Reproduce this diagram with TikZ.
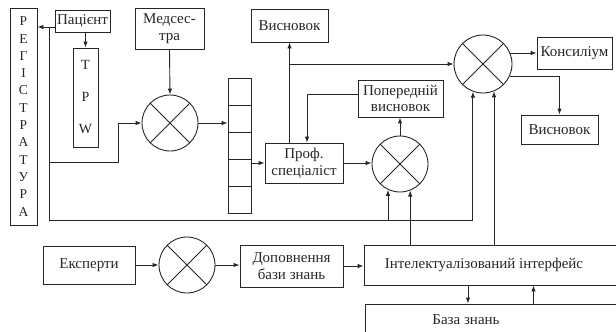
\documentclass[tikz,border=0pt]{standalone}
\usepackage{fontspec}
\setmainfont{Liberation Serif}
\usetikzlibrary{arrows.meta,calc}

\begin{document}
\begin{tikzpicture}[
		x=1pt, y=-1pt,
		line width=0.9pt,
		color=black!85,
		font=\fontsize{15}{16.5}\selectfont,
		>={Latex[length=6pt,width=4.5pt]},
		box/.style={draw, rectangle, inner sep=1pt},
		cell/.style={draw, rectangle, minimum width=23, minimum height=27},
		mix/.style={circle, draw, minimum size=56, inner sep=0pt,
			path picture={\draw (path picture bounding box.north west) -- (path picture bounding box.south east)
				(path picture bounding box.north east) -- (path picture bounding box.south west);}}
		]
		
		\clip (0,0) rectangle (616,332);
		
		% left column
		\node[box, align=center, minimum width=27, minimum height=217, font=\fontsize{13.5}{17.3}\selectfont] (reg) at (23.5,116.5)
		{Р\\Е\\Г\\І\\С\\Т\\Р\\А\\Т\\У\\Р\\А};
		\node[box, minimum width=55, minimum height=22] (pat) at (82.5,21) {Пацієнт};
		\node[box, align=center, minimum width=25, minimum height=99, font=\fontsize{14}{32}\selectfont] (tpw) at (85.5,97.5) {Т\\Р\\W};
		\node[box, align=center, minimum width=69, minimum height=41] (med) at (169.5,28.5) {Медсес-\\тра};
		\node[mix] (c1) at (170,123) {};
		
		% queue
		\foreach \i in {1,...,5}
		\node[cell] (st\i) at (239.5,{64.5+27*\i}) {};
		
		% specialist
		\node[box, align=center, minimum width=78, minimum height=40] (prof) at (304,163) {Проф.\\спеціаліст};
		\node[box, minimum width=77, minimum height=33] (vis1) at (289.5,25.5) {Висновок};
		\node[box, align=center, minimum width=85, minimum height=37] (prev) at (400.5,98.5) {Попередній\\висновок};
		\node[mix] (c2) at (400,164) {};
		
		% council
		\node[mix, minimum size=58] (c3) at (483,64) {};
		\node[box, minimum width=75, minimum height=32] (kons) at (574.5,53) {Консиліум};
		\node[box, minimum width=77, minimum height=29] (vis2) at (559.5,129.5) {Висновок};
		
		% knowledge base
		\node[box, minimum width=92, minimum height=38] (exp) at (89,265) {Експерти};
		\node[mix] (c4) at (187,265) {};
		\node[box, align=center, minimum width=103, minimum height=42] (dop) at (291.5,266) {Доповнення\\бази знань};
		\node[box, minimum width=256, minimum height=40] (intf) at (492,265) {\hspace*{-16pt}Інтелектуалізований інтерфейс};
		\node[box, minimum width=255, minimum height=32] (kb) at (492.5,320) {\hspace*{-53pt}База знань};
		
		\coordinate (j1) at (49,27);
		\coordinate (j2) at (49,220);
		\coordinate (j3) at (118,162);
		
		% connectors
		\draw[->] (pat.west |- j1) -- (reg.east |- j1);
		\draw[->] (j1) |- (j3) |- (c1.west);
		\draw[->] (j1) -- (j2) -| (c3.-110);
		\draw[->] (c2.-115 |- j2) -- (c2.-115);
		\draw[->] (pat.south -| tpw.north) -- (tpw.north);
		\draw[->] (med.south) -- (c1.north);
		\draw[->] (c1.east) -- (c1.east -| st2.west);
		\draw[->] (prof.west -| st4.east) -- (prof.west);
		\draw[->] (prof.east) -- (prof.east -| c2.west);
		\draw[->] (prof.north -| vis1.south) -- (vis1.south);
		\draw[->] (vis1.south |- c3.west) -- (c3.west);
		\draw[->] (c2.north) -- (c2.north |- prev.south);
		\draw[->] ([yshift=4pt]prev.west) -| ([xshift=3pt]prof.north);
		\draw[->] (c3.22) -- (c3.22 -| kons.west);
		\draw[->] (c3.-24) -| (vis2.north);
		\draw[->] (c2.-69 |- intf.north) -- (c2.-69);
		\draw[->] (c3.-68 |- intf.north) -- (c3.-68);
		\draw[->] (exp.east) -- (c4.west);
		\draw[->] (c4.east) -- (c4.east -| dop.west);
		\draw[->] (dop.east) -- (dop.east -| intf.west);
		\draw[->] ([xshift=-24pt]intf.south) -- ([xshift=-24pt]intf.south |- kb.north);
		\draw[->] ([xshift=41pt]kb.north) -- ([xshift=41pt]kb.north |- intf.south);
		
	\end{tikzpicture}
\end{document}
